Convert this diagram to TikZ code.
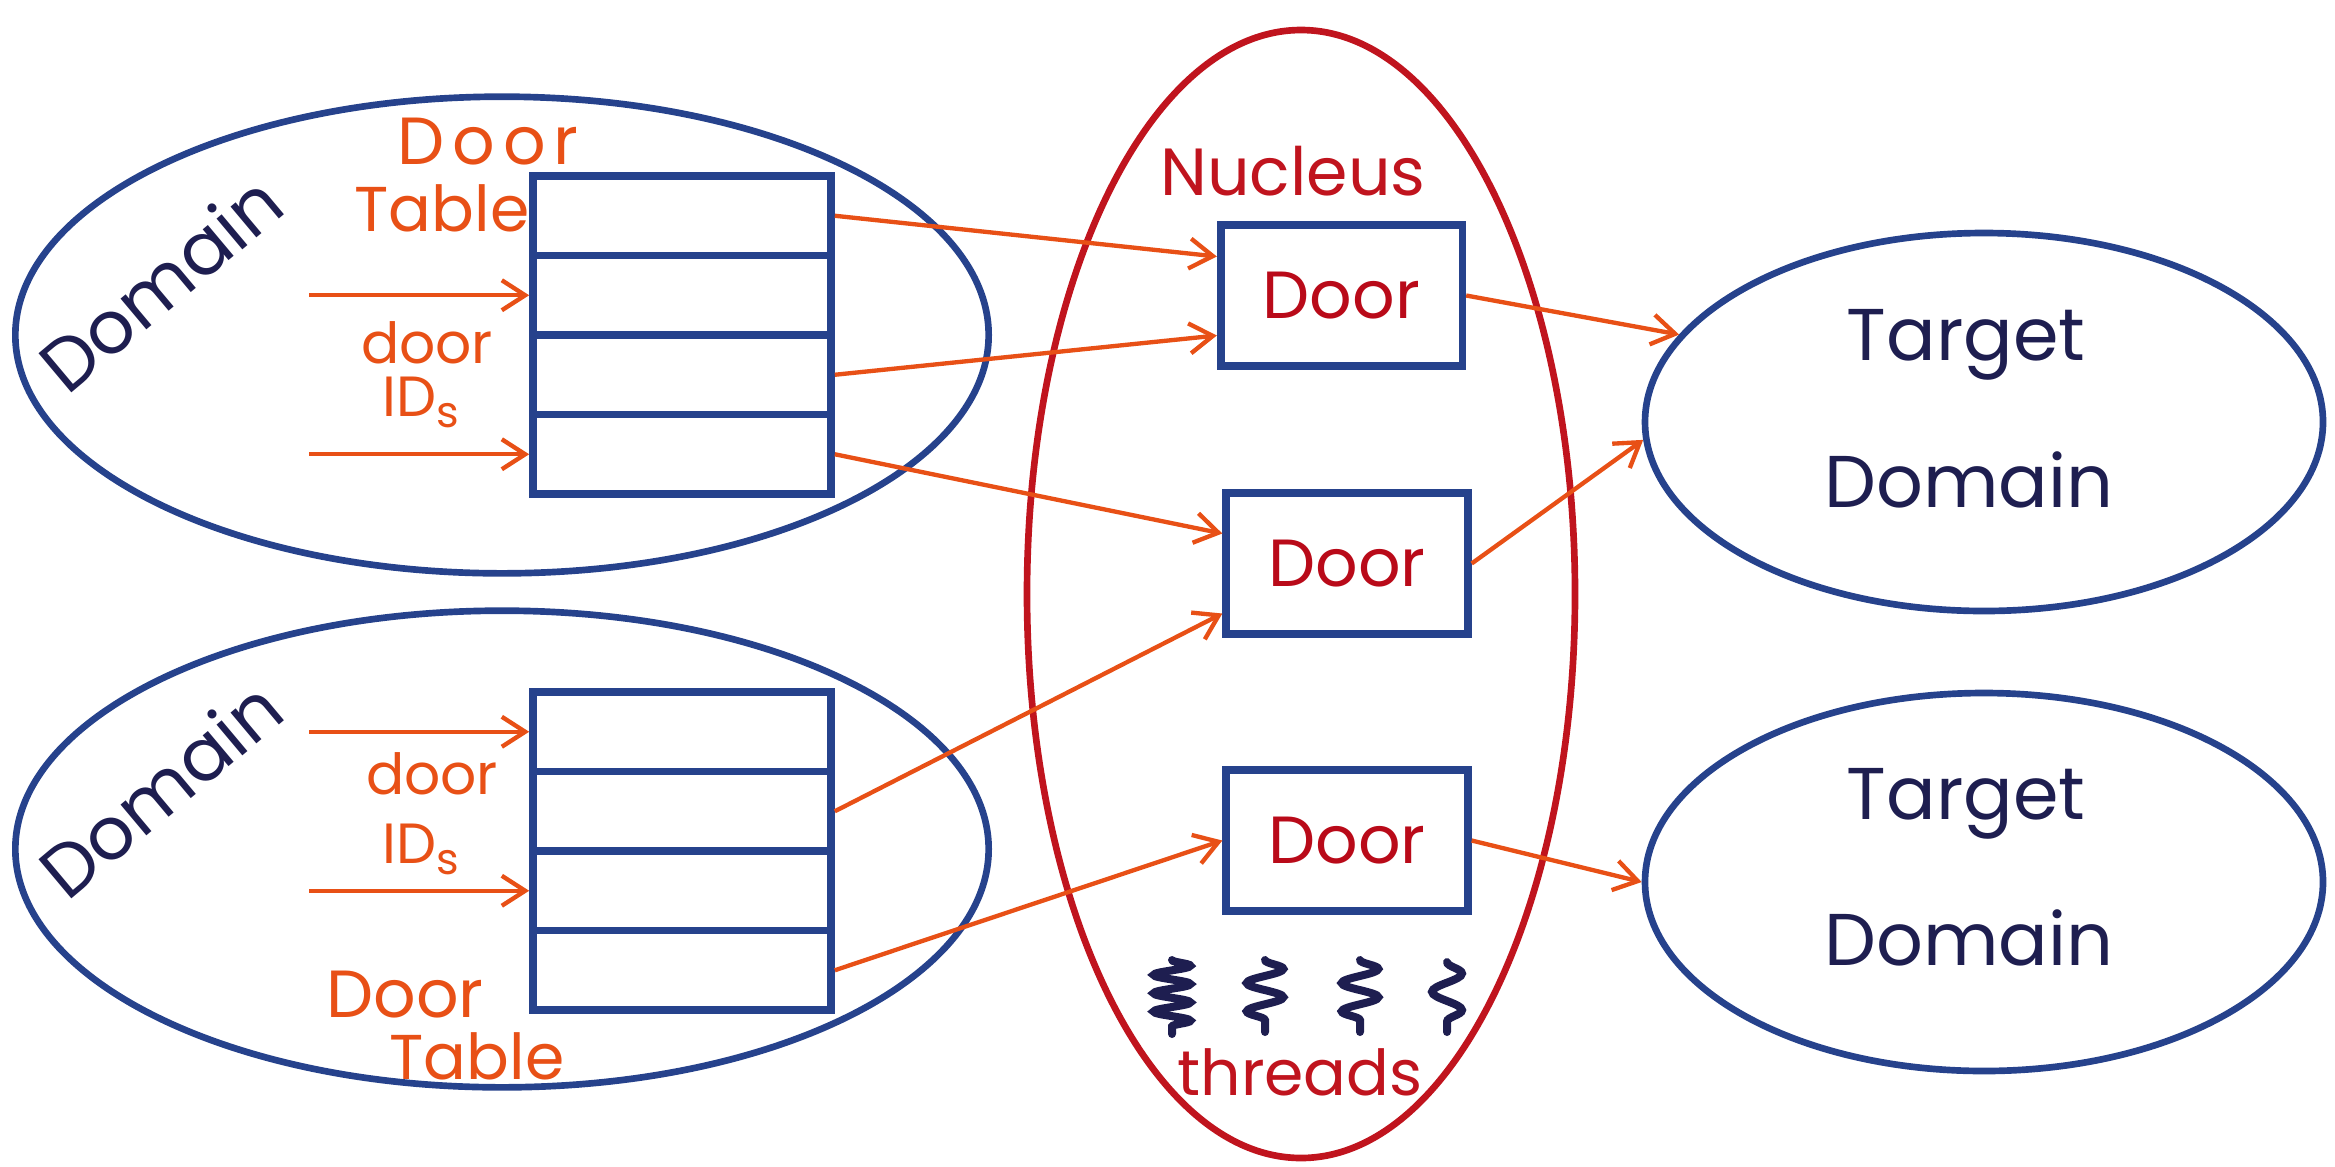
\documentclass[tikz,border=0pt]{standalone}
\usepackage{fontspec}
\setmainfont{Poppins}
\usetikzlibrary{shapes.geometric,arrows.meta,calc,decorations.pathmorphing}
\definecolor{navy}{RGB}{38,66,140}
\definecolor{ink}{RGB}{30,30,80}
\definecolor{org}{RGB}{232,80,22}
\definecolor{nred}{RGB}{192,20,30}
\definecolor{dred}{RGB}{185,10,25}
\tikzset{
  dom/.style={ellipse, draw=navy, line width=2pt, inner sep=0pt},
  rowbox/.style={rectangle, draw=navy, line width=2.3pt, minimum width=89.4pt, minimum height=23.85pt, inner sep=0pt},
  doorbox/.style={rectangle, draw=navy, line width=2.3pt, minimum width=72.5pt, minimum height=42.3pt, inner sep=0pt, text=dred, font=\fontsize{20}{22}\selectfont},
  olab/.style={text=org, inner sep=0pt, font=\fontsize{19}{21}\selectfont},
  ilab/.style={text=ink, inner sep=0pt, font=\fontsize{22}{24}\selectfont},
  arr/.style={draw=org, line width=1.3pt, -{Straight Barb[length=7pt,width=9pt]}},
  squig/.style={draw=ink, line width=2.4pt, line cap=round, decorate},
}
\newcommand{\idslabel}{ID\raisebox{-0.35ex}{\fontsize{13}{14}\selectfont s}}
\begin{document}
\begin{tikzpicture}[x=0.3pt,y=-0.3pt]
\useasboundingbox (0,0) rectangle (2335,1166);
% ellipses
\node[dom, minimum width=292pt, minimum height=143pt] (dom1) at (502,335) {};
\node[dom, minimum width=292pt, minimum height=143pt] (dom2) at (502,849) {};
\node[ellipse, draw=nred, line width=2pt, minimum width=164.4pt, minimum height=338.4pt, inner sep=0pt] (nuc) at (1301,594) {};
\node[dom, minimum width=203.4pt, minimum height=113.4pt] (t1) at (1984,422) {};
\node[dom, minimum width=203.4pt, minimum height=113.4pt] (t2) at (1984,882) {};
% tables
\node[rowbox] (a1) at (682,215.75) {};
\node[rowbox] (a2) at (682,295.25) {};
\node[rowbox] (a3) at (682,374.75) {};
\node[rowbox] (a4) at (682,454.25) {};
\node[rowbox] (b1) at (682,731.75) {};
\node[rowbox] (b2) at (682,811.25) {};
\node[rowbox] (b3) at (682,890.75) {};
\node[rowbox] (b4) at (682,970.25) {};
% doors
\node[doorbox] (d1) at (1341.5,295.5) {Door};
\node[doorbox] (d2) at (1347,563.5) {Door};
\node[doorbox] (d3) at (1347,840.5) {Door};
% labels
\node[ilab, rotate=40] (ldom1) at (160,283) {Domain};
\node[ilab, rotate=40] (ldom2) at (160,789) {Domain};
\node[olab, font=\fontsize{20}{22}\selectfont\addfontfeatures{LetterSpace=12}] (ldoor1) at (488,142) {Door};
\node[olab] (ltab1) at (442,208) {Table};
\node[olab, font=\fontsize{17}{19}\selectfont] (lid1a) at (427,343) {door};
\node[olab, font=\fontsize{17}{19}\selectfont] (lid1b) at (421,402) {\idslabel};
\node[olab, font=\fontsize{17}{19}\selectfont] (lid2a) at (432,774) {door};
\node[olab, font=\fontsize{17}{19}\selectfont] (lid2b) at (421,849) {\idslabel};
\node[olab, font=\fontsize{20}{22}\selectfont] (ldoor2) at (405,995) {Door};
\node[olab] (ltab2) at (477,1056) {Table};
\node[inner sep=0pt, text=nred, font=\fontsize{20}{22}\selectfont] (lnuc) at (1293,171) {Nucleus};
\node[ilab] (lt1a) at (1966,345) {Target};
\node[ilab] (lt1b) at (1969,480) {Domain};
\node[ilab] (lt2a) at (1966,804) {Target};
\node[ilab] (lt2b) at (1969,938) {Domain};
\node[inner sep=0pt, text=nred, font=\fontsize{19}{21}\selectfont] (lthr) at (1300,1072) {threads};
% threads
\draw[squig, decoration={snake, segment length=5.5pt, amplitude=5.5pt}] (1172,960) -- (1172,1034);
\draw[squig, decoration={snake, segment length=8.5pt, amplitude=5.5pt}] (1265,960) -- (1265,1032);
\draw[squig, decoration={snake, segment length=8.5pt, amplitude=5.5pt}] (1360,960) -- (1360,1032);
\draw[squig, decoration={snake, segment length=11pt, amplitude=4.5pt}] (1447,962) -- (1447,1032);
% incoming arrows
\coordinate (s1) at ($(a2.west)+(-220,0)$);
\coordinate (s2) at ($(a4.west)+(-220,0)$);
\coordinate (s3) at ($(b1.west)+(-220,0)$);
\coordinate (s4) at ($(b3.west)+(-220,0)$);
\draw[arr] (s1) -- (a2.west);
\draw[arr] (s2) -- (a4.west);
\draw[arr] (s3) -- (b1.west);
\draw[arr] (s4) -- (b3.west);
% table to doors
\draw[arr] (a1.east) -- ($(d1.west)+(0,-39)$);
\draw[arr] (a3.east) -- ($(d1.west)+(0,40)$);
\draw[arr] (a4.east) -- ($(d2.west)+(0,-30)$);
\draw[arr] (b2.east) -- ($(d2.west)+(0,50)$);
\draw[arr] (b4.east) -- (d3.west);
% doors to targets
\draw[arr] (d1.east) -- (t1.164);
\draw[arr] (d2.east) -- (t1.183);
\draw[arr] (d3.east) -- (t2.west);
\end{tikzpicture}
\end{document}
